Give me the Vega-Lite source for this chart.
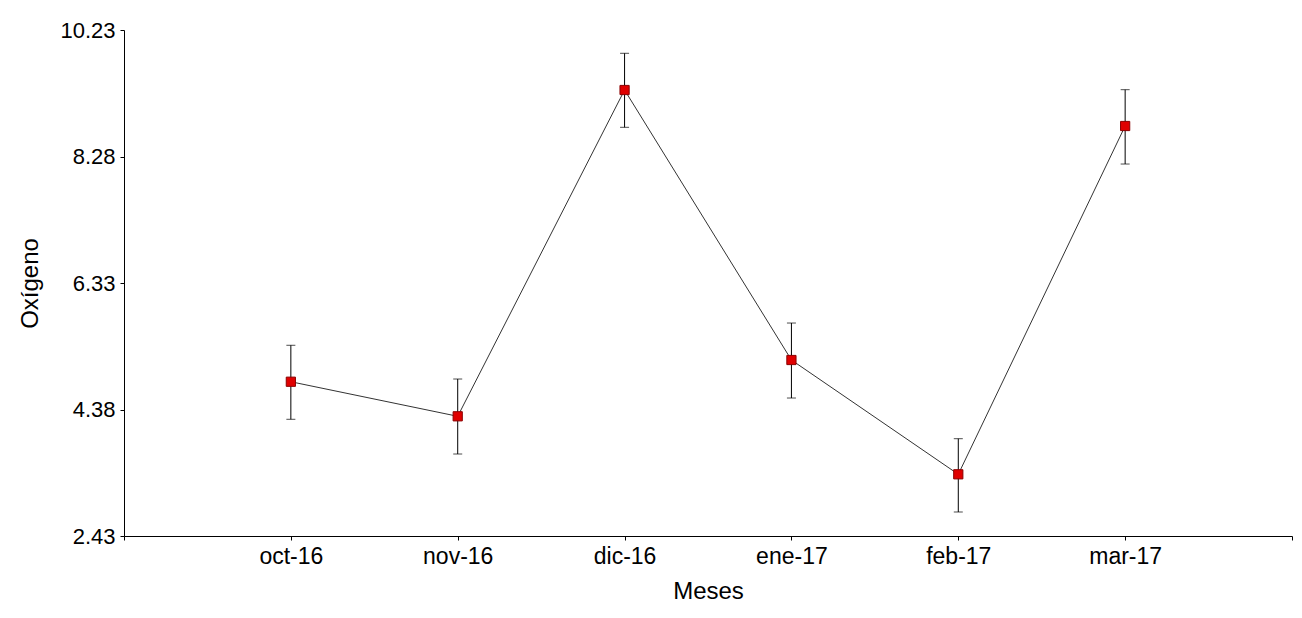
{
  "$schema": "https://vega.github.io/schema/vega-lite/v6.json",
  "width": 1168,
  "height": 506,
  "autosize": {"type": "none"},
  "padding": {"left": 124, "top": 30, "right": 10, "bottom": 82},
  "background": "white",
  "config": {
    "view": {"stroke": null},
    "font": "Liberation Sans",
    "axis": {
      "domainColor": "black",
      "domainWidth": 1,
      "tickColor": "black",
      "tickWidth": 1,
      "labelColor": "black",
      "titleColor": "black",
      "labelFont": "Liberation Sans",
      "titleFont": "Liberation Sans",
      "labelFontSize": 22,
      "titleFontSize": 24,
      "titleFontWeight": "normal",
      "grid": false
    }
  },
  "data": {
    "values": [
      {"mes": "oct-16", "media": 4.808, "inferior": 4.229, "superior": 5.370},
      {"mes": "nov-16", "media": 4.275, "inferior": 3.694, "superior": 4.850},
      {"mes": "dic-16", "media": 9.305, "inferior": 8.730, "superior": 9.871},
      {"mes": "ene-17", "media": 5.143, "inferior": 4.557, "superior": 5.713},
      {"mes": "feb-17", "media": 3.381, "inferior": 2.800, "superior": 3.930},
      {"mes": "mar-17", "media": 8.750, "inferior": 8.164, "superior": 9.310}
    ]
  },
  "encoding": {
    "x": {
      "field": "mes",
      "type": "ordinal",
      "scale": {
        "type": "point",
        "domain": ["", "oct-16", "nov-16", "dic-16", "ene-17", "feb-17", "mar-17", " "],
        "padding": 0
      },
      "axis": {
        "title": "Meses",
        "labelAngle": 0,
        "labelFontSize": 23,
        "tickSize": 4,
        "labelPadding": 5,
        "titleY": 62,
        "titleBaseline": "alphabetic",
        "labelBaseline": "top"
      }
    }
  },
  "layer": [
    {
      "mark": {"type": "line", "color": "#333333", "strokeWidth": 1},
      "encoding": {
        "y": {
          "field": "media",
          "type": "quantitative",
          "scale": {"domain": [2.43, 10.23], "nice": false, "zero": false},
          "axis": {
            "title": "Oxígeno",
            "values": [2.43, 4.38, 6.33, 8.28, 10.23],
            "format": ".2f",
            "tickSize": 4,
            "labelPadding": 5,
            "titleAngle": -90,
            "titleX": -87,
            "titleY": 253,
            "titleAlign": "center",
            "titleBaseline": "alphabetic"
          }
        }
      }
    },
    {
      "mark": {"type": "rule", "color": "black", "strokeWidth": 1},
      "encoding": {
        "y": {"field": "inferior", "type": "quantitative"},
        "y2": {"field": "superior"}
      }
    },
    {
      "mark": {"type": "tick", "orient": "horizontal", "color": "black", "size": 9, "thickness": 1},
      "encoding": {
        "y": {"field": "inferior", "type": "quantitative"}
      }
    },
    {
      "mark": {"type": "tick", "orient": "horizontal", "color": "black", "size": 9, "thickness": 1},
      "encoding": {
        "y": {"field": "superior", "type": "quantitative"}
      }
    },
    {
      "mark": {"type": "point", "shape": "square", "filled": true, "size": 85, "fill": "#e00000", "stroke": "#8b0000", "strokeWidth": 1, "opacity": 1},
      "encoding": {
        "y": {"field": "media", "type": "quantitative"}
      }
    }
  ]
}
